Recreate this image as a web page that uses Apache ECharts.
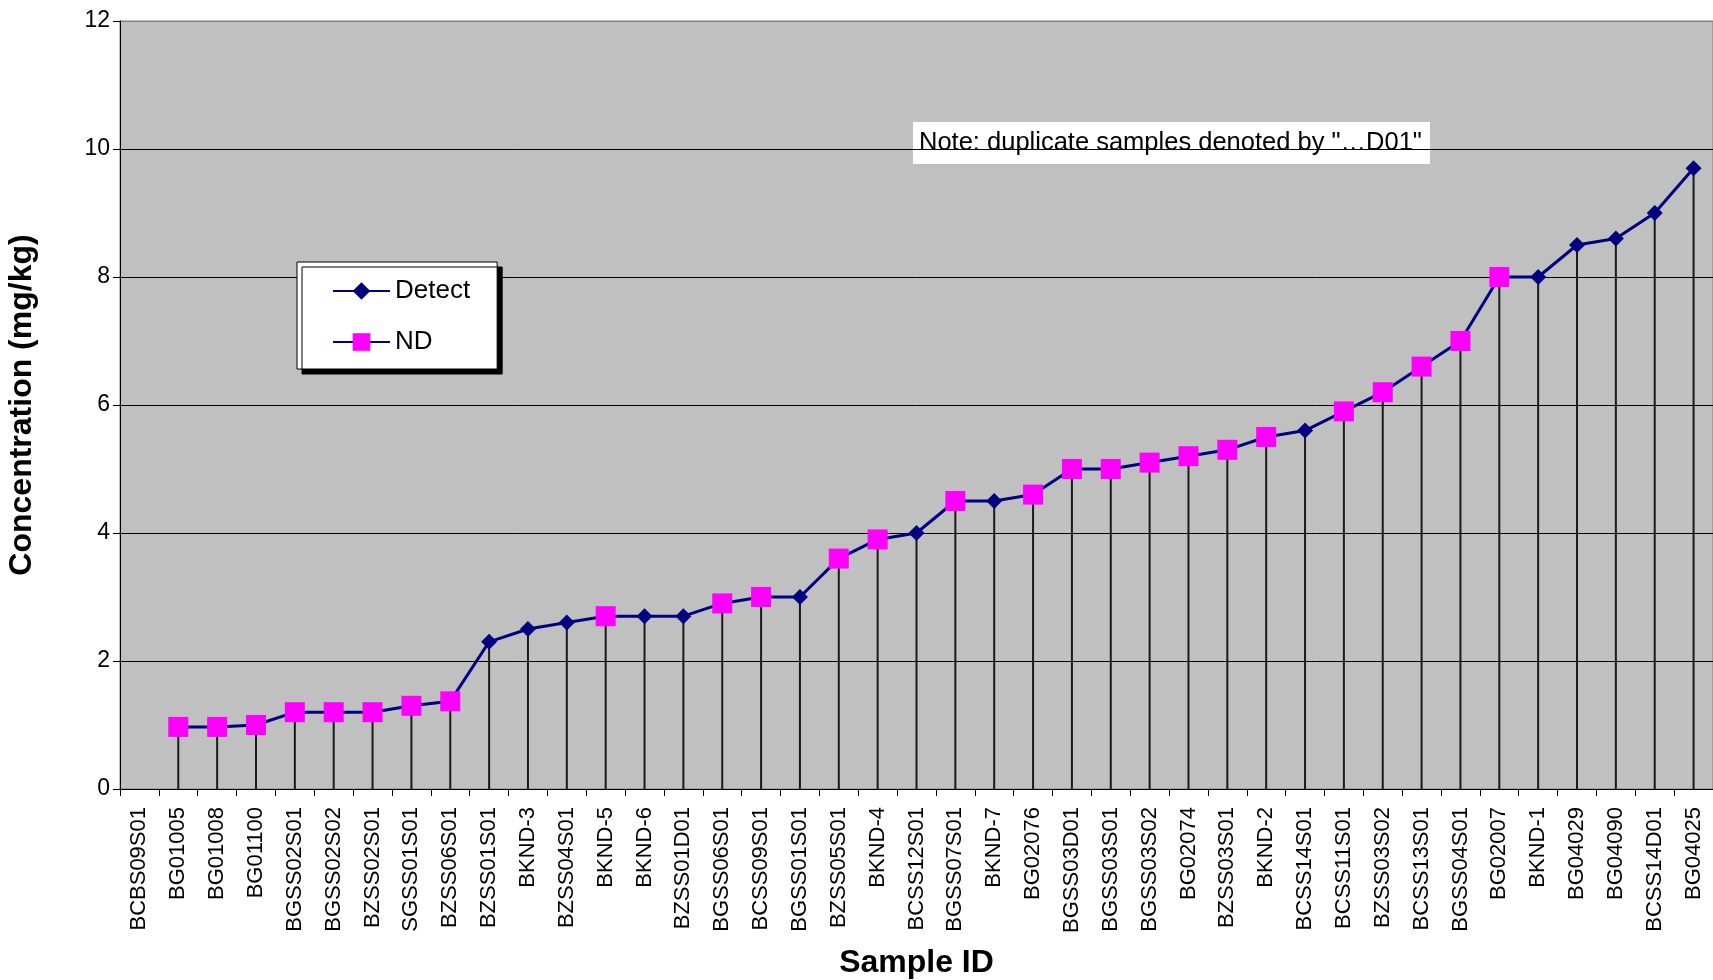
<!DOCTYPE html>
<html>
<head>
<meta charset="utf-8">
<script src="https://cdn.jsdelivr.net/npm/echarts@6/dist/echarts.min.js"></script>
<style>html,body{margin:0;padding:0;background:#fff;}#chart{width:1713px;height:980px;}</style>
</head>
<body>
<div id="chart"></div>
<script>
const categories = ['BCBS09S01','BG01005','BG01008','BG01100','BGSS02S01','BGSS02S02','BZSS02S01','SGSS01S01','BZSS06S01','BZSS01S01','BKND-3','BZSS04S01','BKND-5','BKND-6','BZSS01D01','BGSS06S01','BCSS09S01','BGSS01S01','BZSS05S01','BKND-4','BCSS12S01','BGSS07S01','BKND-7','BG02076','BGSS03D01','BGSS03S01','BGSS03S02','BG02074','BZSS03S01','BKND-2','BCSS14S01','BCSS11S01','BZSS03S02','BCSS13S01','BGSS04S01','BG02007','BKND-1','BG04029','BG04090','BCSS14D01','BG04025'];
const concentration = [null,0.97,0.97,1.0,1.2,1.2,1.2,1.3,1.37,2.3,2.5,2.6,2.7,2.7,2.7,2.9,3.0,3.0,3.6,3.9,4.0,4.5,4.5,4.6,5.0,5.0,5.1,5.2,5.3,5.5,5.6,5.9,6.2,6.6,7.0,8.0,8.0,8.5,8.6,9.0,9.7];
// D = Detect, N = ND (non-detect)
const resultType = [null,'N','N','N','N','N','N','N','N','D','D','D','N','D','D','N','N','D','N','N','D','N','D','N','N','N','N','N','N','N','D','N','N','N','N','N','D','D','D','D','D'];
const yTicks = [0, 2, 4, 6, 8, 10, 12];

const NAVY = '#000080', MAGENTA = '#FF00FF';
const FONT = '"Liberation Sans", Arial, sans-serif';

const chart = echarts.init(document.getElementById('chart'), null, {renderer: 'canvas'});

const lineData = concentration.map((v, i) => {
  if (v === null) return {value: null};
  const isND = resultType[i] === 'N';
  return {
    value: v,
    symbol: isND ? 'rect' : 'diamond',
    symbolSize: isND ? 20 : 16,
    itemStyle: {color: isND ? MAGENTA : NAVY}
  };
});

const option = {
  animation: false,
  textStyle: {fontFamily: FONT, color: '#000'},
  grid: {
    left: 120, right: 0, top: 21, bottom: 191,
    outerBoundsMode: 'none',
    containLabel: false,
    show: true, backgroundColor: '#C0C0C0', borderColor: '#808080', borderWidth: 1
  },
  legend: {
    data: ['Detect', 'ND'],
    orient: 'vertical',
    left: 297, top: 262,
    padding: [16, 27, 14, 35],
    itemWidth: 57, itemHeight: 22, itemGap: 25,
    backgroundColor: '#fff', borderColor: '#000', borderWidth: 1,
    shadowColor: '#000', shadowOffsetX: 5, shadowOffsetY: 5, shadowBlur: 0,
    textStyle: {fontSize: 26, fontFamily: FONT, color: '#000'},
    selectedMode: false
  },
  xAxis: {
    type: 'category',
    data: categories,
    boundaryGap: true,
    name: 'Sample ID',
    nameLocation: 'middle',
    nameGap: 158,
    nameMoveOverlap: false,
    nameTextStyle: {fontSize: 32, fontWeight: 'bold', fontFamily: FONT, color: '#000'},
    axisLine: {lineStyle: {color: '#000', width: 1}},
    axisTick: {show: true, interval: 0, length: 7, lineStyle: {color: '#000'}},
    axisLabel: {interval: 0, rotate: 90, fontSize: 22, margin: 18, color: '#000', fontFamily: FONT},
    splitLine: {show: false}
  },
  yAxis: {
    type: 'value',
    min: yTicks[0], max: yTicks[yTicks.length - 1], interval: 2,
    name: 'Concentration (mg/kg)',
    nameLocation: 'middle',
    nameGap: 82,
    nameMoveOverlap: false,
    nameTextStyle: {fontSize: 32, fontWeight: 'bold', fontFamily: FONT, color: '#000'},
    axisLine: {show: true, lineStyle: {color: '#000', width: 1}},
    axisTick: {show: true, length: 7, lineStyle: {color: '#000'}},
    axisLabel: {fontSize: 23, margin: 10, color: '#000', fontFamily: FONT},
    splitLine: {show: true, lineStyle: {color: ['#000','#000','#000','#000','#000','#000','#808080'], width: 1}}
  },
  series: [
    {
      name: 'drop',
      type: 'bar',
      data: concentration,
      barWidth: 2,
      itemStyle: {color: '#1a1a1a'},
      silent: true,
      z: 1
    },
    {
      name: 'Detect',
      type: 'line',
      data: lineData,
      symbol: 'diamond',
      symbolSize: 16,
      showAllSymbol: true,
      itemStyle: {color: NAVY},
      lineStyle: {color: NAVY, width: 3},
      z: 3
    },
    {
      name: 'ND',
      type: 'line',
      data: [],
      symbol: 'rect',
      symbolSize: 20,
      itemStyle: {color: MAGENTA},
      lineStyle: {color: NAVY, width: 3},
      z: 3
    }
  ],
  graphic: [
    {
      type: 'group',
      left: 913, top: 122,
      children: [
        {type: 'rect', shape: {x: 0, y: 0, width: 517, height: 42}, style: {fill: '#fff'}},
        {type: 'text', x: 6, y: 21, style: {text: 'Note: duplicate samples denoted by "\u2026D01"', font: '25.5px ' + FONT, fill: '#000', verticalAlign: 'middle'}}
      ]
    }
  ]
};
chart.setOption(option);
</script>
</body>
</html>
